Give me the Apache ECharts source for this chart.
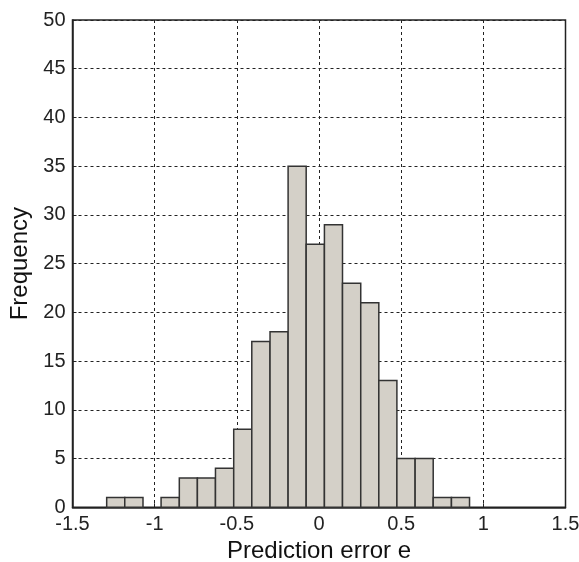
<!DOCTYPE html>
<html><head><meta charset="utf-8">
<script src="https://cdn.jsdelivr.net/npm/echarts@6/dist/echarts.min.js"></script>
<style>html,body{margin:0;padding:0;background:#fff}#c{width:579px;height:562px}</style>
</head><body><div id="c"></div>
<script>
const binEdges = [-1.292,-1.182,-1.071,-0.961,-0.850,-0.740,-0.630,-0.519,-0.409,-0.298,-0.188,-0.078,0.033,0.143,0.254,0.364,0.474,0.585,0.695,0.806,0.916];
const counts = [1,1,0,1,3,3,4,8,17,18,35,27,29,23,21,13,5,5,1,1];
const xTicks = [-1.5,-1,-0.5,0,0.5,1,1.5];
const yTicks = [0,5,10,15,20,25,30,35,40,45,50];

const data = counts.map((c,i)=>[binEdges[i], binEdges[i+1], c]);
const font = 'Liberation Sans, Arial, sans-serif';
const chart = echarts.init(document.getElementById('c'));
chart.setOption({
  animation:false,
  grid:{left:72.5,right:13.5,top:20,bottom:54.7,containLabel:false,outerBoundsMode:'none',
    show:true,borderColor:'#222',borderWidth:1.5,backgroundColor:'#fff'},
  xAxis:{type:'value',min:xTicks[0],max:xTicks[xTicks.length-1],interval:0.5,
    name:'Prediction error e',nameLocation:'middle',nameGap:32,
    nameTextStyle:{fontFamily:font,fontSize:24,color:'#111'},
    axisLine:{show:true,onZero:false,lineStyle:{color:'#222',width:1.5}},
    axisTick:{show:true,inside:true,length:4,lineStyle:{color:'#222'}},
    axisLabel:{fontFamily:font,fontSize:20,color:'#222',margin:7,formatter:v=>String(v)},
    splitLine:{show:true,lineStyle:{color:'#222',type:[3,3],width:1}}},
  yAxis:{type:'value',min:yTicks[0],max:yTicks[yTicks.length-1],interval:5,
    name:'Frequency',nameLocation:'middle',nameGap:40,
    nameTextStyle:{fontFamily:font,fontSize:24,color:'#111'},
    axisLine:{show:true,onZero:false,lineStyle:{color:'#222',width:1.5}},
    axisTick:{show:true,inside:true,length:4,lineStyle:{color:'#222'}},
    axisLabel:{fontFamily:font,fontSize:20,color:'#222',margin:7},
    splitLine:{show:true,lineStyle:{color:'#222',type:[3,3],width:1}}},
  series:[{type:'custom',
    data:data,
    encode:{x:[0,1],y:2},
    renderItem:function(params,api){
      const x0=api.value(0),x1=api.value(1),h=api.value(2);
      if(h<=0) return null;
      const p0=api.coord([x0,h]);
      const p1=api.coord([x1,0]);
      return {type:'rect',shape:{x:p0[0],y:p0[1],width:p1[0]-p0[0],height:p1[1]-p0[1]},
        style:{fill:'#d4d0c8',stroke:'#333',lineWidth:1.5}};
    }
  }]
});
</script></body></html>
